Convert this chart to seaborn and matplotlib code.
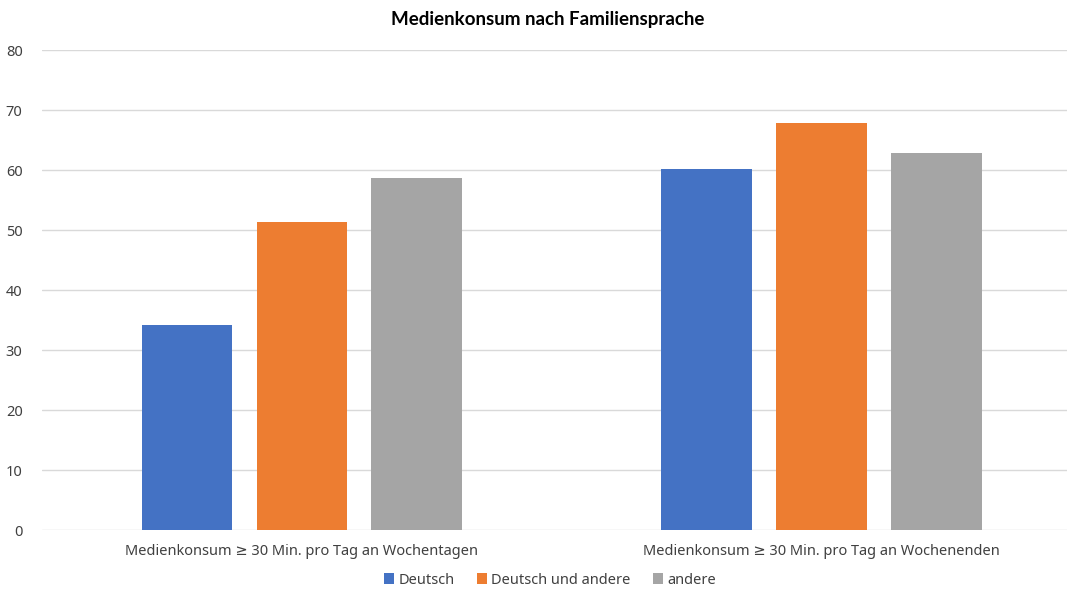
import matplotlib
matplotlib.use("Agg")
import matplotlib.pyplot as plt
import seaborn as sns
import pandas as pd

categories = ["Medienkonsum ≥ 30 Min. pro Tag an Wochentagen",
              "Medienkonsum ≥ 30 Min. pro Tag an Wochenenden"]
series = ["Deutsch", "Deutsch und andere", "andere"]
deutsch = [34.2, 60.2]
deutsch_und_andere = [51.4, 67.9]
andere = [58.7, 62.9]
colors = ["#4472C4", "#ED7D31", "#A5A5A5"]

rows = []
for s, vals in zip(series, [deutsch, deutsch_und_andere, andere]):
    for c, v in zip(categories, vals):
        rows.append({"cat": c, "series": s, "val": v})
df = pd.DataFrame(rows)

sns.set_theme(style="white")
plt.rcParams['font.family'] = ['Noto Sans', 'DejaVu Sans']

fig = plt.figure(figsize=(10.67, 5.9), dpi=100)
ax = fig.add_axes([42/1067, 60/590, (1067-42)/1067, 480/590])
sns.barplot(data=df, x="cat", y="val", hue="series", palette=colors,
            order=categories, hue_order=series, width=0.663, gap=0.21,
            saturation=1, linewidth=0, ax=ax, legend=True)
ax.set_xlim(-0.5, 1.472)
ax.set_ylim(0, 80)
ax.set_yticks(range(0, 81, 10))
ax.yaxis.grid(True, color="#D9D9D9", linewidth=1)
ax.set_axisbelow(True)
for sp in ax.spines.values():
    sp.set_visible(False)
ax.set_xlabel("")
ax.set_ylabel("")
ax.tick_params(axis="x", length=0, labelsize=10.5, colors="#404040", pad=10)
ax.tick_params(axis="y", length=0, labelsize=10.5, colors="#404040", pad=14)
fig.suptitle("Medienkonsum nach Familiensprache", x=548/1067, y=1-20/590,
             va="center", fontsize=13.5, fontweight="bold", color="#000000",
             family=["Lato", "DejaVu Sans"])
ax.legend(loc="center", bbox_to_anchor=(550/1067, 10/590), bbox_transform=fig.transFigure,
          ncol=3, frameon=False, fontsize=10.5, handlelength=0.7, handleheight=0.7,
          handletextpad=0.3, columnspacing=1.5, labelcolor="#404040")
fig.savefig("out.png", dpi=100)
